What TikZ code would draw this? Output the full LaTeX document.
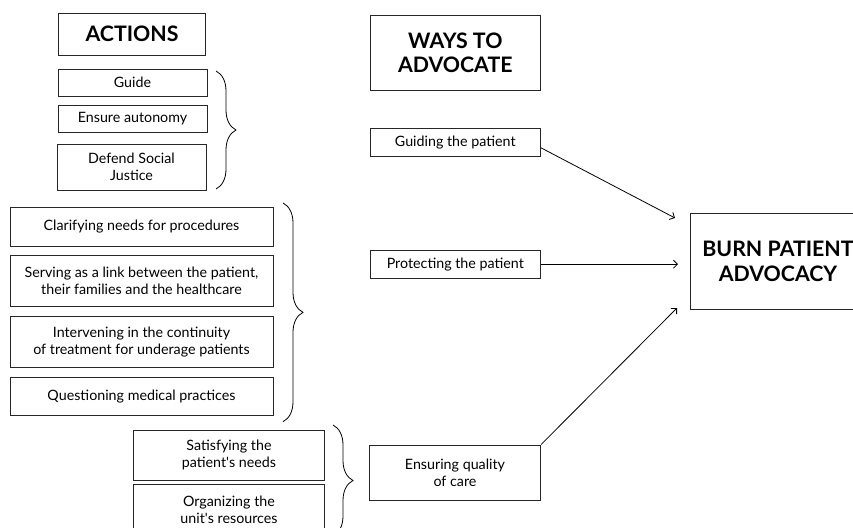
\documentclass[tikz,border=0pt]{standalone}
\usepackage{fontspec}
\setmainfont{Lato}
\usetikzlibrary{arrows.meta,decorations.pathreplacing}
\tikzset{
	box/.style={draw=black!85, line width=0.6pt, align=center, inner sep=1pt, font=\fontsize{10.7}{12.6}\selectfont},
	head/.style={box, font=\fontsize{16}{18.5}\selectfont\bfseries},
	curly/.style={decorate, decoration={brace, amplitude=15pt}, line width=0.6pt},
	link/.style={-{Straight Barb[length=3pt,width=6pt]}, line width=0.6pt}
}
\begin{document}
\begin{tikzpicture}[x=0.75pt, y=-0.75pt]
		\useasboundingbox (0,0) rectangle (853,528);
		
		\node[head, minimum width=110pt, minimum height=31.3pt] (actions) at (132,34.2) {ACTIONS};
		\node[box, minimum width=111.8pt, minimum height=20.8pt] (guide) at (132.5,82.8) {Guide};
		\node[box, minimum width=111.8pt, minimum height=20.8pt] (autonomy) at (132.5,118.8) {Ensure autonomy};
		\node[box, minimum width=111.8pt, minimum height=34.5pt] (justice) at (131.5,167) {Defend Social\\Justice};
		
		\node[box, minimum width=197.3pt, minimum height=28.7pt] (clarifying) at (141.5,226.8) {Clarifying needs for procedures};
		\node[box, minimum width=197.3pt, minimum height=38.3pt] (serving) at (141.5,280.5) {Serving as a link between the patient,\\their families and the healthcare};
		\node[box, minimum width=197.3pt, minimum height=38.3pt] (intervening) at (141.5,342.2) {Intervening in the continuity\\of treatment for underage patients};
		\node[box, minimum width=197.3pt, minimum height=28.5pt] (questioning) at (141.5,396.7) {Questioning medical practices};
		
		\node[box, minimum width=143.6pt, minimum height=38pt] (satisfying) at (229,455.3) {Satisfying the\\patient\textquotesingle s needs};
		\node[box, minimum width=143.6pt, minimum height=38pt] (organizing) at (229,509.5) {Organizing the\\unit\textquotesingle s resources};
		
		\node[head, minimum width=128pt, minimum height=55.7pt] (ways) at (455.3,52.8) {WAYS TO\\ADVOCATE};
		\node[box, minimum width=128pt, minimum height=21.3pt] (guiding) at (455.3,142.5) {Guiding the patient};
		\node[box, minimum width=128pt, minimum height=21.3pt] (protecting) at (455.3,264.2) {Protecting the patient};
		\node[box, minimum width=128.5pt, minimum height=41.3pt] (ensuring) at (455,472.5) {Ensuring quality\\of care};
		
		\node[head, minimum width=132pt, minimum height=72pt] (burn) at (778,261.4) {BURN PATIENT\\ADVOCACY};
		
		\draw[curly] (216,71) -- (216,189);
		\draw[curly] (283,203) -- (283,421.7);
		\draw[curly] (333,425) -- (333,536);
		
		\coordinate (tipA) at (675,218);
		\coordinate (tipB) at (678,264.2);
		\coordinate (tipC) at (677,308);
		
		\draw[link] ([yshift=-4pt]guiding.east) -- (tipA);
		\draw[link] (protecting.east) -- (tipB);
		\draw[link] (ensuring.north east) -- (tipC);
	\end{tikzpicture}
\end{document}
